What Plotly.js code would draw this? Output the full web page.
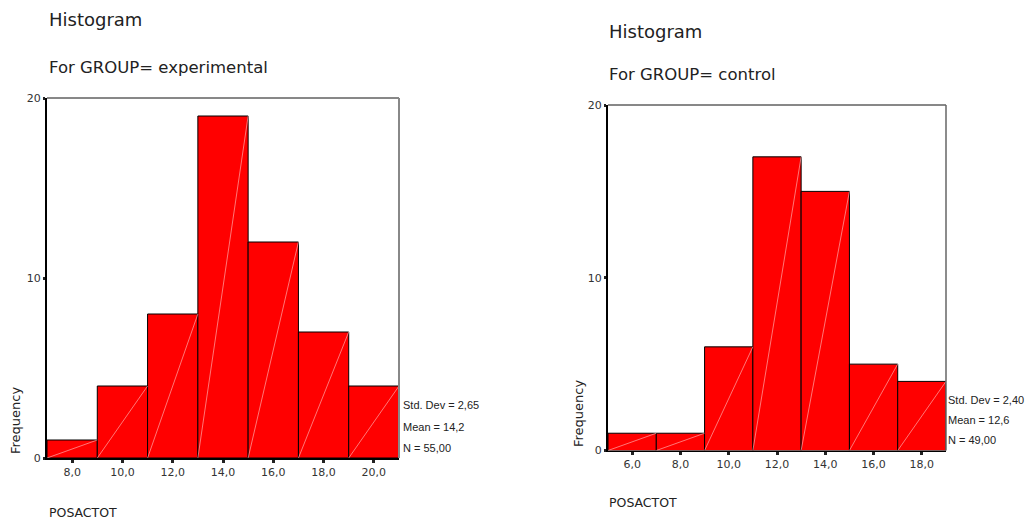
<!DOCTYPE html>
<html>
<head>
<meta charset="utf-8">
<script src="https://cdn.plot.ly/plotly-3.0.1.min.js"></script>
<style>html,body{margin:0;padding:0;background:#fff;}#chart{width:1029px;height:520px;}</style>
</head>
<body>
<div id="chart"></div>
<script>
// ---- data ----
const expCenters = [8, 10, 12, 14, 16, 18, 20];
const expCounts  = [1, 4, 8, 19, 12, 7, 4];
const ctlCenters = [6, 8, 10, 12, 14, 16, 18];
const ctlCounts  = [1, 1, 6, 17, 15, 5, 4];
const binWidth = 2;
const expStats = ["Std. Dev = 2,65", "Mean = 14,2", "N = 55,00"];
const ctlStats = ["Std. Dev = 2,40", "Mean = 12,6", "N = 49,00"];
const titleMain = "Histogram";
const expSubtitle = "For GROUP= experimental";
const ctlSubtitle = "For GROUP= control";
const xLabel = "POSACTOT";
const yLabel = "Frequency";

const FONT = "DejaVu Sans, sans-serif";
const FONT2 = "Liberation Sans, Arial, sans-serif";

function diagLines(centers, counts) {
  const xs = [], ys = [];
  centers.forEach((c, i) => {
    xs.push(c - binWidth / 2, c + binWidth / 2, null);
    ys.push(0, counts[i], null);
  });
  return {xs, ys};
}

const dExp = diagLines(expCenters, expCounts);
const dCtl = diagLines(ctlCenters, ctlCounts);

const traces = [
  {type: 'bar', x: expCenters, y: expCounts, width: binWidth, xaxis: 'x', yaxis: 'y',
   marker: {color: '#ff0000', line: {color: '#000', width: 1}}, hoverinfo: 'x+y'},
  {type: 'scatter', mode: 'lines', x: dExp.xs, y: dExp.ys, xaxis: 'x', yaxis: 'y',
   line: {color: 'rgba(255,200,200,0.85)', width: 0.7}, hoverinfo: 'skip'},
  {type: 'bar', x: ctlCenters, y: ctlCounts, width: binWidth, xaxis: 'x2', yaxis: 'y2',
   marker: {color: '#ff0000', line: {color: '#000', width: 1}}, hoverinfo: 'x+y'},
  {type: 'scatter', mode: 'lines', x: dCtl.xs, y: dCtl.ys, xaxis: 'x2', yaxis: 'y2',
   line: {color: 'rgba(255,200,200,0.85)', width: 0.7}, hoverinfo: 'skip'}
];

const W = 1029, H = 520;
const px = v => v / W;
const py = v => 1 - v / H;

function xAxis(domain, range, vals, anchor) {
  return {domain: domain, range: range, anchor: anchor, tickvals: vals, tickformat: '.1f',
    showgrid: false, zeroline: false, showline: true, linecolor: '#000', linewidth: 1.5,
    mirror: false, ticks: 'outside', ticklen: 3, tickwidth: 3, tickcolor: '#222',
    tickfont: {family: FONT, size: 11, color: '#333'}, fixedrange: true};
}
function yAxis(domain, anchor) {
  return {domain: domain, range: [0, 20], anchor: anchor, tickvals: [0, 10, 20],
    showgrid: false, zeroline: false, showline: true, linecolor: '#000', linewidth: 2,
    ticks: 'outside', ticklen: 2, tickwidth: 3, tickcolor: '#222',
    tickfont: {family: FONT, size: 11, color: '#333'}, fixedrange: true};
}

function ann(text, x, y, size, opts, fam) {
  return Object.assign({text: text, xref: 'paper', yref: 'paper', x: px(x), y: py(y),
    xanchor: 'left', yanchor: 'middle', showarrow: false,
    font: {family: fam || FONT, size: size, color: '#222'}}, opts || {});
}

const annotations = [
  ann(titleMain, 47, 20, 18),
  ann(expSubtitle, 47, 68, 16.5),
  ann(titleMain, 607, 31, 18),
  ann(ctlSubtitle, 607, 75, 16.5),
  ann(yLabel, 15, 421, 13, {textangle: -90, xanchor: 'center'}),
  ann(yLabel, 578, 414, 13, {textangle: -90, xanchor: 'center'}),
  ann(xLabel, 47, 512, 12.5),
  ann(xLabel, 607, 502, 12.5),
];
expStats.forEach((t, i) => annotations.push(ann(t, 401, 405 + i * 21.5, 11, {}, FONT2)));
ctlStats.forEach((t, i) => annotations.push(ann(t, 946, 400 + i * 20, 11, {}, FONT2)));

const shapes = [
  {type: 'line', xref: 'x domain', yref: 'y domain', x0: 0, x1: 1, y0: 1, y1: 1, line: {color: '#111', width: 1}},
  {type: 'line', xref: 'x domain', yref: 'y domain', x0: 1, x1: 1, y0: 0, y1: 1, line: {color: '#888', width: 2}},
  {type: 'line', xref: 'x2 domain', yref: 'y2 domain', x0: 0, x1: 1, y0: 1, y1: 1, line: {color: '#111', width: 1}},
  {type: 'line', xref: 'x2 domain', yref: 'y2 domain', x0: 1, x1: 1, y0: 0, y1: 1, line: {color: '#666', width: 1.5}},
];

const layout = {
  width: W, height: H, margin: {l: 0, r: 0, t: 0, b: 0},
  paper_bgcolor: '#fff', plot_bgcolor: '#fff', showlegend: false,
  separators: ',.', bargap: 0,
  xaxis: xAxis([px(47), px(399)], [7, 21], expCenters, 'y'),
  yaxis: yAxis([1 - 458 / H, 1 - 98 / H], 'x'),
  xaxis2: xAxis([px(608), px(946)], [5, 19], ctlCenters, 'y2'),
  yaxis2: yAxis([1 - 450.5 / H, 1 - 105 / H], 'x2'),
  annotations: annotations,
  shapes: shapes
};

Plotly.newPlot('chart', traces, layout, {displayModeBar: false, staticPlot: true});
</script>
</body>
</html>
